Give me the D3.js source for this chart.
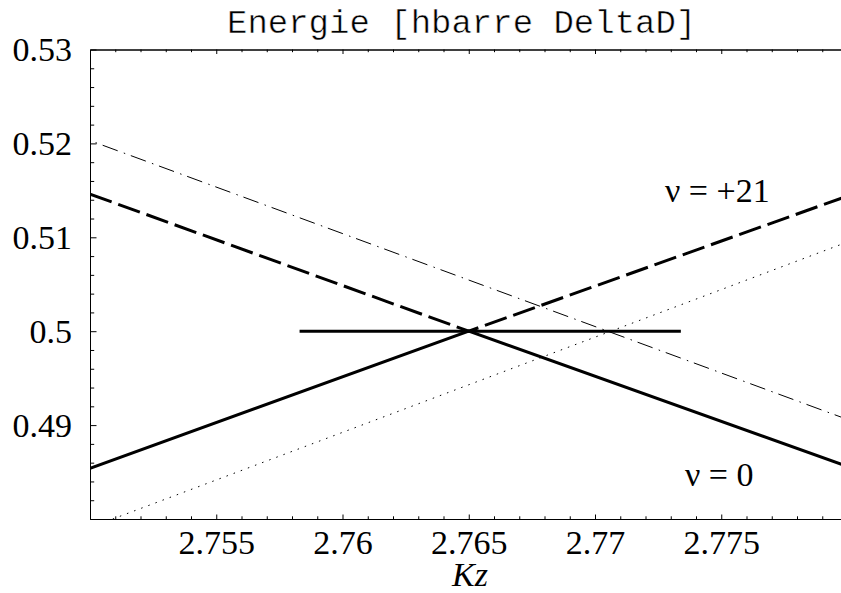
<!DOCTYPE html>
<html><head><meta charset="utf-8">
<script src="https://cdn.jsdelivr.net/npm/d3@7"></script>
<style>body{margin:0;background:#fff} svg{display:block}</style>
</head><body><svg id="c" width="841" height="593"></svg>
<script>
// ---- data ----
const titleText = "Energie [hbarre DeltaD]";
const xLabel = "Kz";
const xDomain = [2.75, 2.78];
const yDomain = [0.48, 0.53];
const xMajorTicks = [2.755, 2.76, 2.765, 2.77, 2.775];
const xTickLabels = ["2.755", "2.76", "2.765", "2.77", "2.775"];
const yMajorTicks = [0.49, 0.5, 0.51, 0.52, 0.53];
const yTickLabels = ["0.49", "0.5", "0.51", "0.52", "0.53"];
const lowerBranchK = [2.75, 2.765, 2.78];
const lowerBranchE = [0.4854, 0.5, 0.4856];
const upperBranchK = [2.75, 2.765, 2.78];
const upperBranchE = [0.5146, 0.5, 0.5144];
const dashDotK = [2.75, 2.78];
const dashDotE = [0.5203, 0.4906];
const dottedK = [2.7509, 2.78];
const dottedE = [0.48, 0.5095];
const levelK = [2.7583, 2.7734];
const levelE = [0.5, 0.5];
const curveLabels = ["ν = +21", "ν = 0"];

// ---- layout ----
const L = 90, T = 49.5, B = 519, R = 847.5;
const svg = d3.select("#c");
const x = d3.scaleLinear().domain(xDomain).range([L, R]);
const y = d3.scaleLinear().domain(yDomain).range([B, T]);
const serif = "'Liberation Serif','Times New Roman',serif";

svg.append("defs").append("clipPath").attr("id", "clip")
  .append("rect").attr("x", L).attr("y", T).attr("width", R - L).attr("height", B - T);

const xMinor = d3.range(2751, 2780).map(v => v / 1000).filter(v => !xMajorTicks.some(m => Math.abs(m - v) < 1e-9));
const yMinor = d3.range(241, 265).map(v => v / 500).filter(v => !yMajorTicks.some(m => Math.abs(m - v) < 1e-9));

function styleAxis(g) {
  g.select(".domain").attr("stroke", "#000").attr("stroke-width", 1);
  g.selectAll(".tick line").attr("stroke", "#000").attr("stroke-width", 1);
}
// bottom axis
const gb = svg.append("g").attr("transform", `translate(0,${B})`)
  .call(d3.axisBottom(x).tickValues(xMajorTicks).tickSizeInner(-4.5).tickSizeOuter(0)
    .tickPadding(11).tickFormat((d, i) => xTickLabels[i]));
styleAxis(gb);
gb.selectAll(".tick text").attr("font-family", serif).attr("font-size", 34).attr("fill", "#000");
const gbm = svg.append("g").attr("transform", `translate(0,${B})`)
  .call(d3.axisBottom(x).tickValues(xMinor).tickSizeInner(-2.7).tickSizeOuter(0).tickFormat(""));
styleAxis(gbm);
// top axis
const gt = svg.append("g").attr("transform", `translate(0,${T})`)
  .call(d3.axisTop(x).tickValues(xMajorTicks).tickSizeInner(-4.5).tickSizeOuter(0).tickFormat(""));
styleAxis(gt);
const gtm = svg.append("g").attr("transform", `translate(0,${T})`)
  .call(d3.axisTop(x).tickValues(xMinor).tickSizeInner(-2.7).tickSizeOuter(0).tickFormat(""));
styleAxis(gtm);
// left axis
const gl = svg.append("g").attr("transform", `translate(${L},0)`)
  .call(d3.axisLeft(y).tickValues(yMajorTicks).tickSizeInner(-6.5).tickSizeOuter(0)
    .tickPadding(18).tickFormat((d, i) => yTickLabels[i]));
styleAxis(gl);
gl.selectAll(".tick text").attr("font-family", serif).attr("font-size", 34).attr("fill", "#000").attr("dy", "0.33em");
const glm = svg.append("g").attr("transform", `translate(${L},0)`)
  .call(d3.axisLeft(y).tickValues(yMinor).tickSizeInner(-4.2).tickSizeOuter(0).tickFormat(""));
styleAxis(glm);
// right axis (mostly off canvas)
const gr = svg.append("g").attr("transform", `translate(${R},0)`)
  .call(d3.axisRight(y).tickValues(yMajorTicks).tickSizeInner(-6.5).tickSizeOuter(0).tickFormat(""));
styleAxis(gr);

// ---- curves ----
const line = d3.line().x(d => x(d[0])).y(d => y(d[1]));
const plot = svg.append("g").attr("clip-path", "url(#clip)");
function series(K, E) { return K.map((k, i) => [k, E[i]]); }

plot.append("path").datum(series(dashDotK, dashDotE)).attr("d", line)
  .attr("fill", "none").attr("stroke", "#000").attr("stroke-width", 1)
  .attr("stroke-dasharray", "1.5,6,16,6.5").attr("stroke-dashoffset", -6);
plot.append("path").datum(series(dottedK, dottedE)).attr("d", line)
  .attr("fill", "none").attr("stroke", "#000").attr("stroke-width", 1)
  .attr("stroke-dasharray", "1.5,6.1");
plot.append("path").datum(series(upperBranchK, upperBranchE)).attr("d", line)
  .attr("fill", "none").attr("stroke", "#000").attr("stroke-width", 3)
  .attr("stroke-dasharray", "23,7");
plot.append("path").datum(series(lowerBranchK, lowerBranchE)).attr("d", line)
  .attr("fill", "none").attr("stroke", "#000").attr("stroke-width", 3);
plot.append("path").datum(series(levelK, levelE)).attr("d", line)
  .attr("fill", "none").attr("stroke", "#000").attr("stroke-width", 3);

// ---- texts ----
svg.append("text").attr("x", 227).attr("y", 33).attr("font-family", "'Liberation Mono','Courier New',monospace")
  .attr("font-size", 34).attr("fill", "#000").attr("stroke", "#fff").attr("stroke-width", 0.5)
  .attr("paint-order", "fill").text(titleText);
svg.append("text").attr("x", 665).attr("y", 202).attr("font-family", serif).attr("font-size", 34)
  .attr("fill", "#000").text(curveLabels[0]);
svg.append("text").attr("x", 685).attr("y", 486).attr("font-family", serif).attr("font-size", 34)
  .attr("fill", "#000").text(curveLabels[1]);
svg.append("text").attr("x", 470).attr("y", 586).attr("text-anchor", "middle").attr("font-family", serif)
  .attr("font-style", "italic").attr("font-size", 34).attr("fill", "#000").text(xLabel);
</script></body></html>
